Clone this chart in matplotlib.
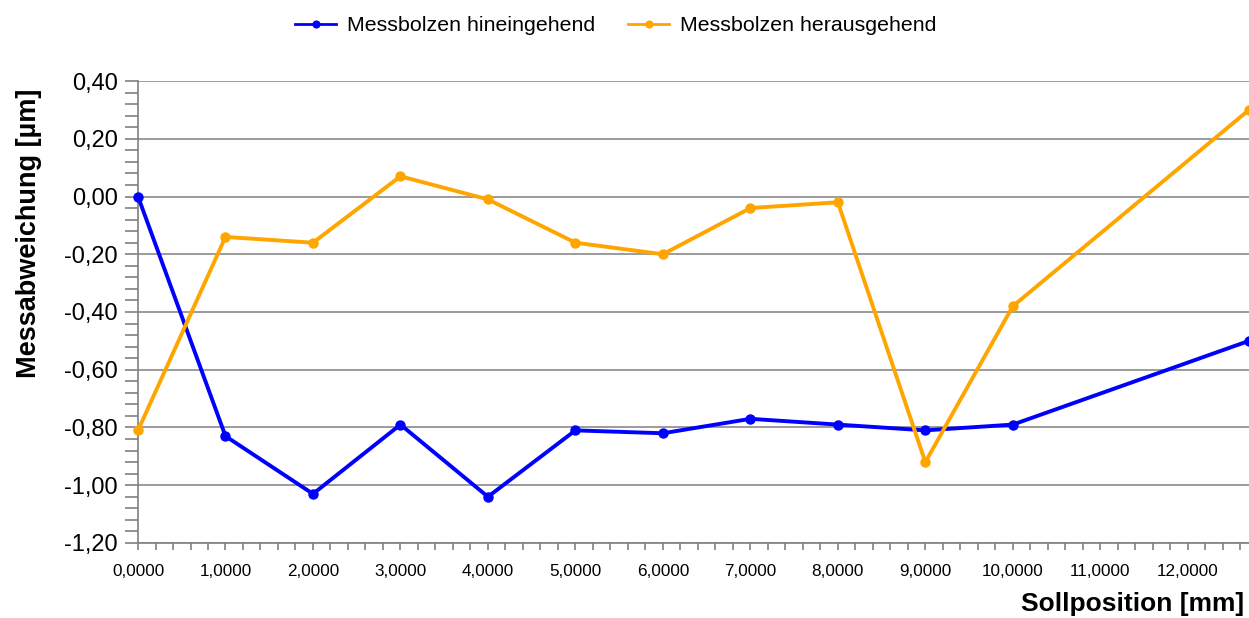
import matplotlib.pyplot as plt
from matplotlib.ticker import FuncFormatter, MultipleLocator

plt.rcParams["font.family"] = ["Liberation Sans", "DejaVu Sans"]

# Sollposition [mm]
positions = [0, 1, 2, 3, 4, 5, 6, 7, 8, 9, 10, 12.7]
# Messabweichung [µm]
hinein = [0.00, -0.83, -1.03, -0.79, -1.04, -0.81, -0.82, -0.77, -0.79, -0.81, -0.79, -0.50]
heraus = [-0.81, -0.14, -0.16, 0.07, -0.01, -0.16, -0.20, -0.04, -0.02, -0.92, -0.38, 0.30]

label_in = "Messbolzen hineingehend"
label_out = "Messbolzen herausgehend"

fig = plt.figure(figsize=(12.49, 6.18), dpi=100)
ax = fig.add_axes([0.1105, 0.1214, 0.8895, 0.7475])

ax.plot(positions, hinein, color="#0000ff", lw=2.8, marker="o", ms=6.5,
        label=label_in, clip_on=False, zorder=3)
ax.plot(positions, heraus, color="#ffa500", lw=2.8, marker="o", ms=6.5,
        label=label_out, clip_on=False, zorder=3)

ax.set_xlim(0, 12.7)
ax.set_ylim(-1.2, 0.4)

ax.xaxis.set_major_locator(MultipleLocator(1))
ax.xaxis.set_minor_locator(MultipleLocator(0.2))
ax.yaxis.set_major_locator(MultipleLocator(0.2))
ax.yaxis.set_minor_locator(MultipleLocator(0.04))

ax.xaxis.set_major_formatter(FuncFormatter(lambda v, p: f"{v:.4f}".replace(".", ",")))
ax.yaxis.set_major_formatter(FuncFormatter(lambda v, p: f"{v:.2f}".replace(".", ",").replace("-0,00", "0,00")))

ax.tick_params(axis="both", which="both", direction="out", color="#808080", width=1.2)
ax.tick_params(axis="y", which="both", length=9.5, labelsize=17, pad=5)
ax.tick_params(axis="x", which="both", length=5, labelsize=12.3, pad=10)

ax.grid(axis="y", which="major", color="#808080", lw=1.1)
ax.set_axisbelow(True)

for side in ["top", "right"]:
    ax.spines[side].set_visible(False)
for side in ["left", "bottom"]:
    ax.spines[side].set_color("#808080")
    ax.spines[side].set_linewidth(1.2)

ax.set_ylabel("Messabweichung [µm]", fontsize=19.5, fontweight="bold")
ax.yaxis.set_label_coords(-0.0864, 0.671)
fig.text(0.996, 0.003, "Sollposition [mm]", fontsize=19, fontweight="bold",
         ha="right", va="bottom")

leg = fig.legend(loc="upper center", bbox_to_anchor=(0.493, 1.005), ncol=2, frameon=False,
                 fontsize=15.4, handlelength=1.9, handletextpad=0.5, columnspacing=1.55,
                 markerscale=0.75)
for line in leg.get_lines():
    line.set_linewidth(2.0)

fig.savefig("out.png", dpi=100)
